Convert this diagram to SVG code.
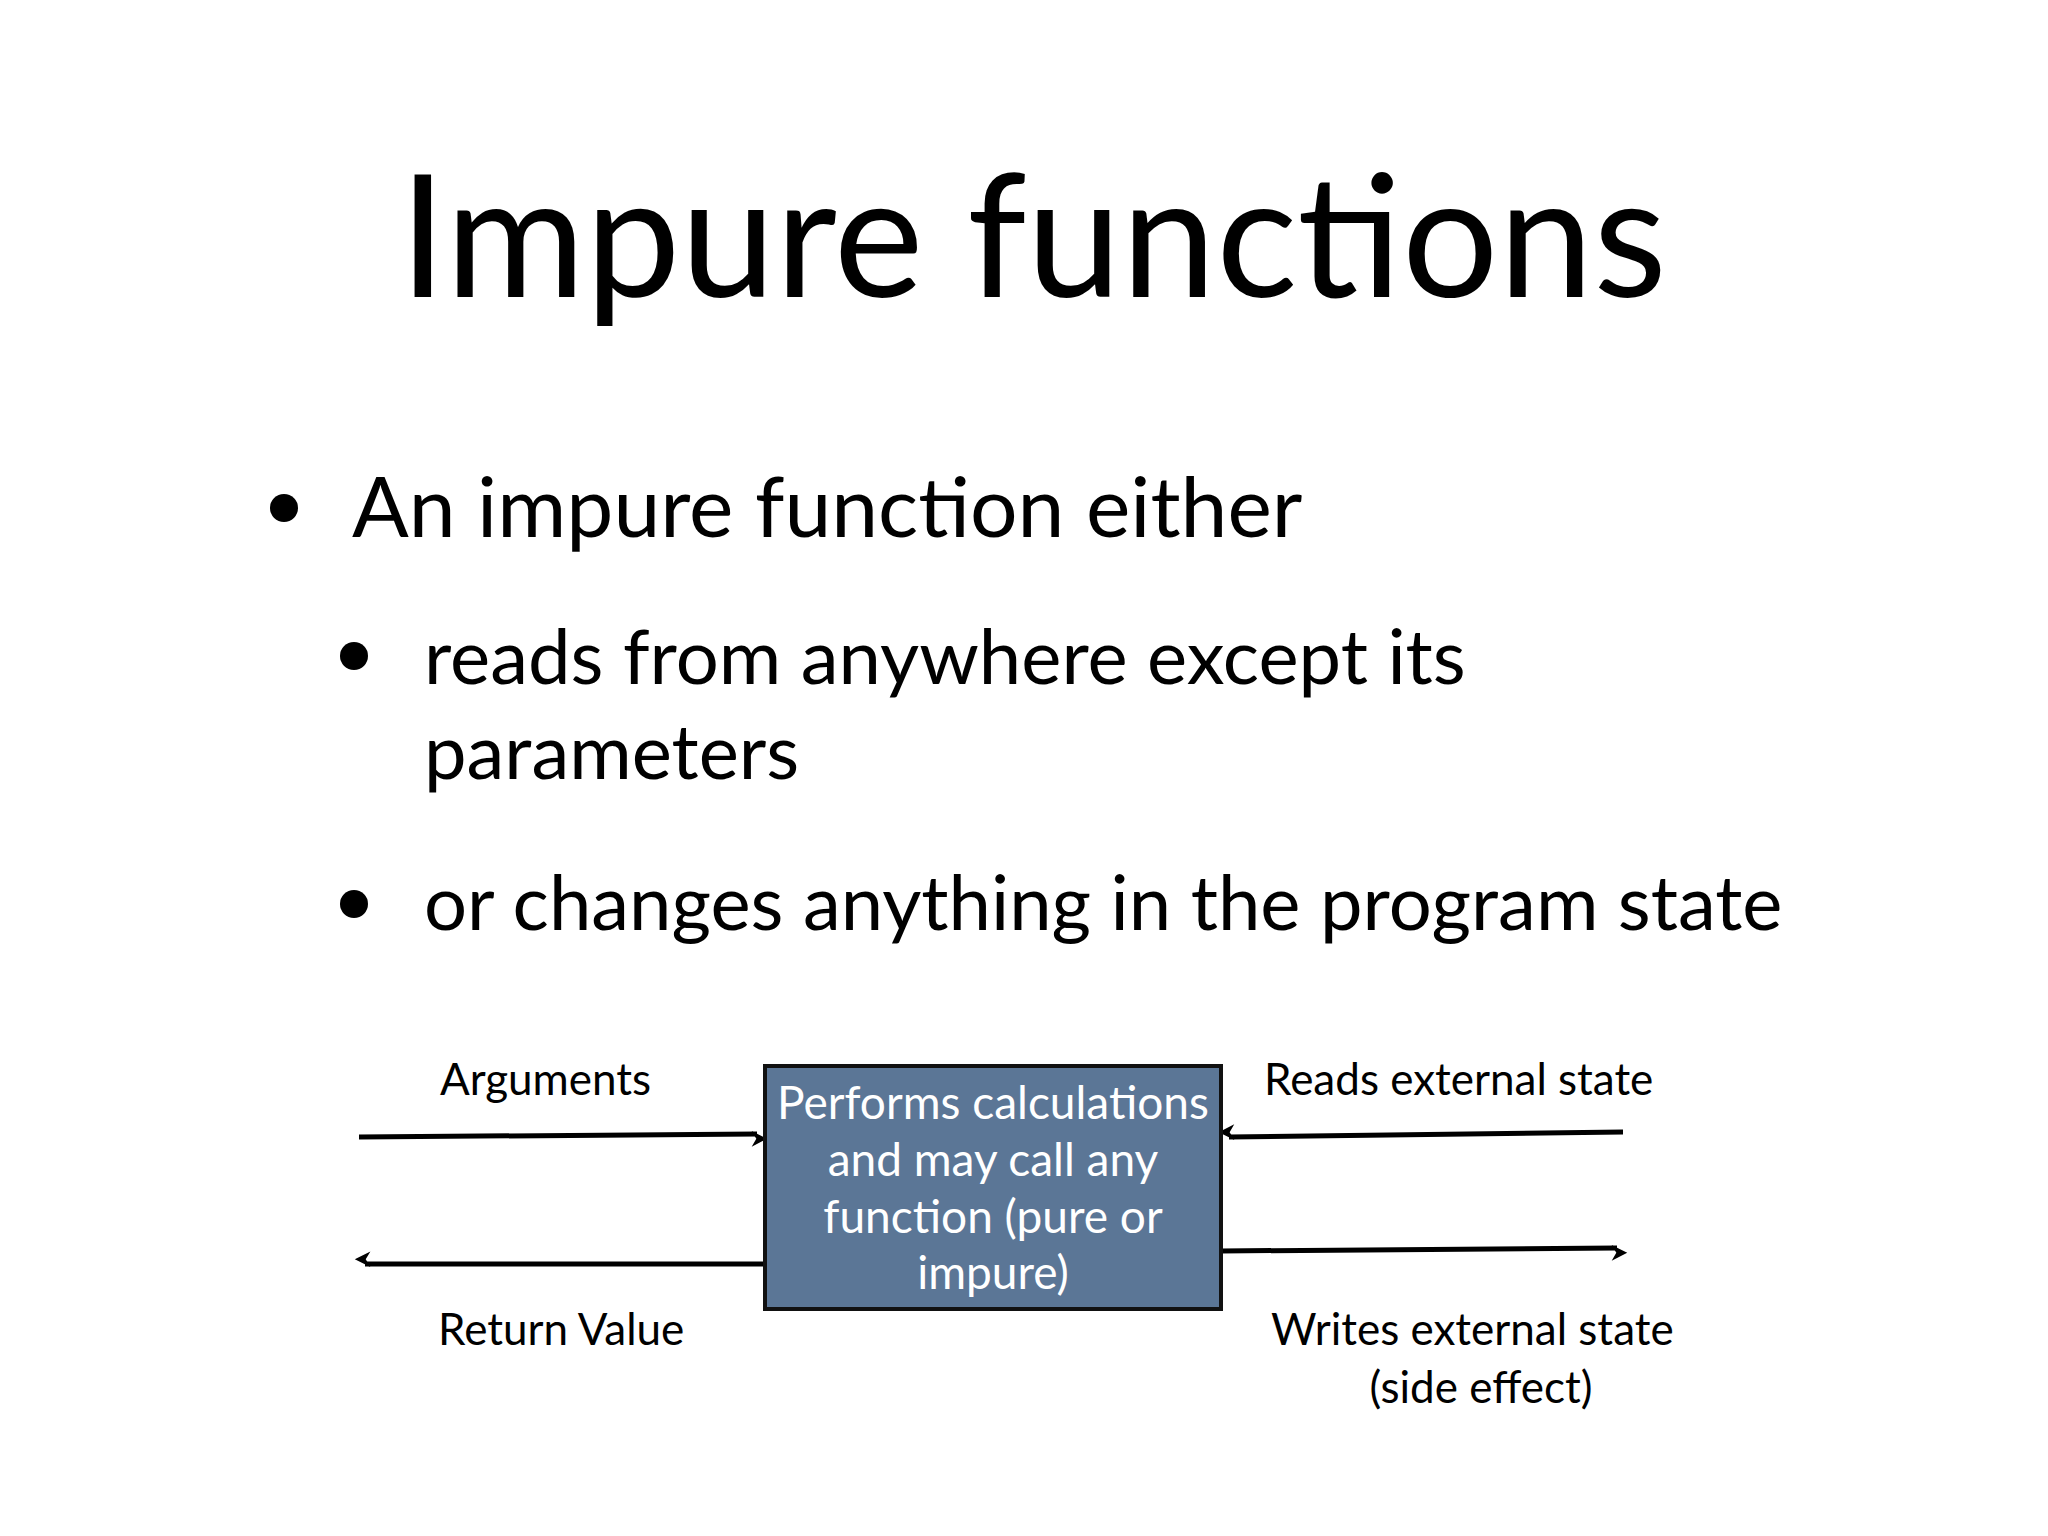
<svg xmlns="http://www.w3.org/2000/svg" width="2048" height="1536" viewBox="0 0 2048 1536">
<style>
text{font-family:Lato,"Open Sans",sans-serif;fill:#000}
.lbl{font-size:44px}
.box{font-size:46px;fill:#fff;text-anchor:middle}
.ln{stroke:#000;stroke-width:5;fill:none}
</style>
<defs>
<marker id="ah" viewBox="0 0 10 10" refX="9" refY="5" markerWidth="6" markerHeight="6" markerUnits="userSpaceOnUse" orient="auto" style="overflow:visible">
<path d="M0,0 L10,5 L0,10 L3,5 Z" fill="#000" transform="scale(2.6)"/>
</marker>
</defs>
<rect width="2048" height="1536" fill="#fff"/>
<text x="1033" y="297" font-size="170" text-anchor="middle">Impure functions</text>
<circle cx="284" cy="508" r="14"/>
<text x="352" y="537" font-size="84">An impure function either</text>
<circle cx="354" cy="656" r="14"/>
<text x="424" y="684" font-size="76">reads from anywhere except its</text>
<text x="424" y="779" font-size="76">parameters</text>
<circle cx="354" cy="904" r="14"/>
<text x="424" y="930" font-size="76">or changes anything in the program state</text>
<g id="connectors">
<line class="ln" x1="359" y1="1137" x2="757" y2="1134" marker-end="url(#ah)"/>
<line class="ln" x1="1623" y1="1132" x2="1229" y2="1137" marker-end="url(#ah)"/>
<line class="ln" x1="765" y1="1264" x2="365" y2="1264" marker-end="url(#ah)"/>
<line class="ln" x1="1221" y1="1251" x2="1617" y2="1248" marker-end="url(#ah)"/>
</g>
<g id="func">
<rect x="765" y="1066" width="456" height="243" fill="#5b7696" stroke="#111" stroke-width="4"/>
<text class="box" x="993" y="1119">Performs calculations</text>
<text class="box" x="993" y="1176">and may call any</text>
<text class="box" x="993" y="1233">function (pure or</text>
<text class="box" x="993" y="1289">impure)</text>
</g>
<g id="labels">
<text class="lbl" x="440" y="1095">Arguments</text>
<text class="lbl" x="1264" y="1095">Reads external state</text>
<text class="lbl" x="438" y="1345">Return Value</text>
<text class="lbl" x="1271" y="1345">Writes external state</text>
<text class="lbl" x="1481" y="1403" text-anchor="middle">(side effect)</text>
</g>
</svg>
